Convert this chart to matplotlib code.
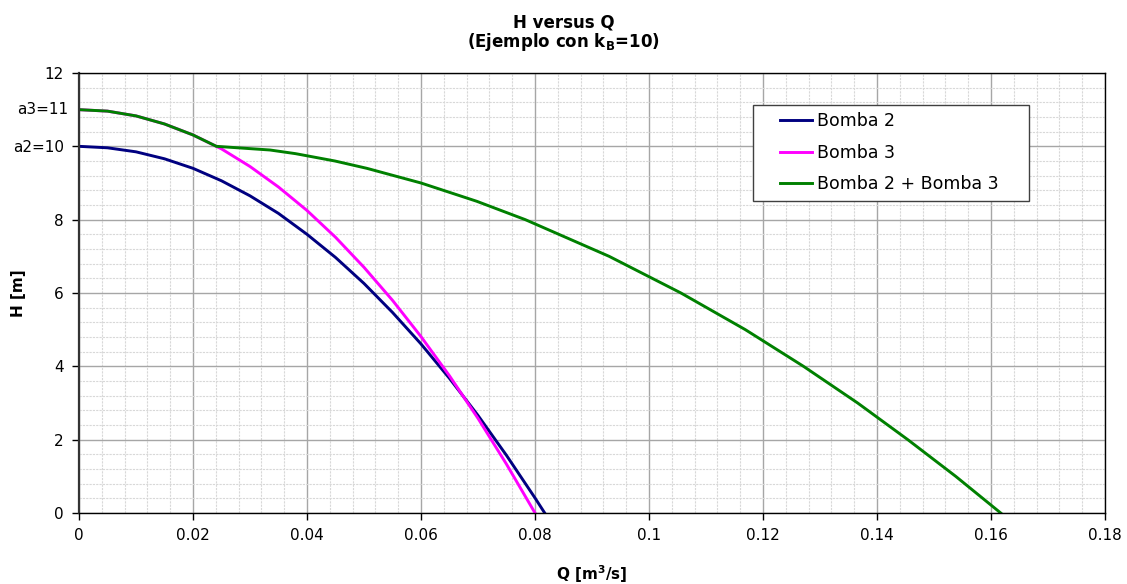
import matplotlib
matplotlib.use("Agg")
import matplotlib.pyplot as plt
from matplotlib.ticker import MultipleLocator
from matplotlib.patches import Rectangle

plt.rcParams['font.family'] = ['DejaVu Sans']
plt.rcParams['mathtext.fontset'] = 'dejavusans'

# ---------- Data ----------
q_b2 = [0, 0.005, 0.01, 0.015, 0.02, 0.025, 0.03, 0.035, 0.04, 0.045,
        0.05, 0.055, 0.06, 0.065, 0.07, 0.075, 0.08, 0.0817]
h_b2 = [10.0, 9.96, 9.85, 9.66, 9.40, 9.06, 8.65, 8.17, 7.60, 6.97,
        6.26, 5.47, 4.61, 3.67, 2.66, 1.57, 0.41, 0.0]

q_b3 = [0, 0.005, 0.01, 0.015, 0.02, 0.025, 0.03, 0.035, 0.04, 0.045,
        0.05, 0.055, 0.06, 0.065, 0.07, 0.075, 0.08]
h_b3 = [11.0, 10.96, 10.83, 10.61, 10.31, 9.93, 9.45, 8.89, 8.25, 7.52,
        6.70, 5.80, 4.81, 3.74, 2.58, 1.33, 0.0]

q_sum = [0, 0.005, 0.01, 0.015, 0.02, 0.0241, 0.0335, 0.0380, 0.0449,
         0.0505, 0.0600, 0.0698, 0.0783, 0.0930, 0.1056, 0.1169, 0.1271,
         0.1366, 0.1454, 0.1538, 0.1617]
h_sum = [11.0, 10.96, 10.83, 10.61, 10.31, 10.0, 9.9, 9.8, 9.6,
         9.4, 9.0, 8.5, 8.0, 7.0, 6.0, 5.0, 4.0,
         3.0, 2.0, 1.0, 0.0]

x_ticks = [0, 0.02, 0.04, 0.06, 0.08, 0.1, 0.12, 0.14, 0.16, 0.18]
x_labels = ["0", "0.02", "0.04", "0.06", "0.08", "0.1", "0.12", "0.14", "0.16", "0.18"]
y_ticks = [0, 2, 4, 6, 8, 10, 12]
y_labels = ["0", "2", "4", "6", "8", "a2=10", "12"]

# ---------- Figure ----------
fig = plt.figure(figsize=(11.27, 5.84), dpi=100, facecolor='white')
ax = fig.add_axes([0.0701, 0.1216, 0.9104, 0.7534])

ax.plot(q_b2, h_b2, color='#000080', lw=2.1, label='Bomba 2')
ax.plot(q_b3, h_b3, color='#FF00FF', lw=2.1, label='Bomba 3')
ax.plot(q_sum, h_sum, color='#008000', lw=2.1, label='Bomba 2 + Bomba 3')

ax.set_xlim(0, 0.18)
ax.set_ylim(0, 12)
ax.set_xticks(x_ticks)
ax.set_xticklabels(x_labels)
ax.set_yticks(y_ticks)
ax.set_yticklabels(y_labels)
ax.xaxis.set_minor_locator(MultipleLocator(0.004))
ax.yaxis.set_minor_locator(MultipleLocator(0.4))
ax.tick_params(which='major', direction='out', length=5, width=1, labelsize=11, pad=6)
ax.tick_params(which='minor', length=0)

ax.grid(which='major', color='#a6a6a6', lw=1.0)
ax.grid(which='minor', color='#d8d8d8', lw=0.8, ls=(0, (2, 1)))
ax.set_axisbelow(True)
for s in ax.spines.values():
    s.set_color('black')
    s.set_linewidth(1.0)
ax.spines['left'].set_color('#333333')
ax.spines['left'].set_linewidth(1.6)

# extra label for the shut-off head of pump 3
ax.text(-0.0107, 11, "a3=11", transform=ax.get_yaxis_transform(),
        ha='right', va='center', fontsize=11)

# ---------- Titles ----------
fig.text(0.5, 0.962, "H versus Q", ha='center', va='center',
         fontsize=12, fontweight='bold')
fig.text(0.5, 0.928, r"(Ejemplo con k$_\mathbf{B}$=10)", ha='center', va='center',
         fontsize=12, fontweight='bold')
ax.set_xlabel(r"Q [m$^\mathbf{3}$/s]", fontsize=11, fontweight='bold', va='center')
ax.set_ylabel("H [m]", fontsize=11, fontweight='bold', va='center')
ax.xaxis.set_label_coords(0.5, -0.139)
ax.yaxis.set_label_coords(-0.0585, 0.5)

# ---------- Legend (box drawn separately, Excel style) ----------
ax.add_patch(Rectangle((0.657, 0.71), 0.269, 0.217, transform=ax.transAxes,
                       facecolor='white', edgecolor='#404040', lw=1.0, zorder=5))
leg = ax.legend(loc='upper left', bbox_to_anchor=(0.683, 0.912),
                borderaxespad=0, borderpad=0, frameon=False, fontsize=12.5,
                handlelength=1.84, handletextpad=0.29, labelspacing=0.8)
leg.set_zorder(6)

plt.savefig("out.png", dpi=100, facecolor='white')
